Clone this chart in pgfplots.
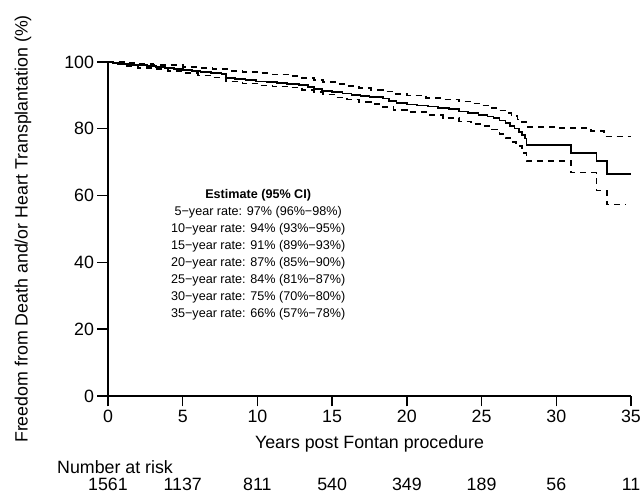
\documentclass[border=0pt]{standalone}
\usepackage{fontspec}
\setmainfont{Liberation Sans}
\usepackage{pgfplots}
\pgfplotsset{compat=1.18}

\begin{document}
\begin{tikzpicture}
\begin{axis}[
  scale only axis, width=523pt, height=334pt,
  xmin=0, xmax=35, ymin=0, ymax=100,
  axis lines=left, axis line style={-, line width=1.4pt},
  xtick={0,5,...,35}, ytick={0,20,...,100},
  tick align=outside, major tick length=10.5pt,
  tick style={black, line width=1.4pt},
  clip=false,
  font=\fontsize{17.8}{21}\selectfont,
  /pgf/number format/assume math mode=true,
  xlabel={Years post Fontan procedure},
  ylabel={Freedom from Death and/or Heart Transplantation (\%)},
  every axis x label/.style={at={(axis description cs:0.5,0)}, yshift=-53pt, anchor=base},
  every axis y label/.style={at={(axis description cs:0,0.5)}, xshift=-85pt, rotate=90, anchor=center},
]
% Kaplan-Meier estimate
\addplot[const plot, black, line width=1.7pt] coordinates {
(0,100)(0.3,99.8)(0.7,99.6)(1.0,99.4)(1.5,99.2)(2.0,99.0)(2.6,98.8)(3.2,98.6)
(3.8,98.3)(4.4,98.0)(5.0,97.5)(5.6,97.3)(6.2,97.0)(6.9,96.7)(7.6,96.4)(7.9,95.2)
(8.5,94.9)(9.2,94.6)(9.9,94.2)(10.6,94.0)(11.3,93.7)(12.0,93.5)(12.8,93.2)(13.4,92.6)
(13.8,92.0)(14.3,91.4)(15.0,91.0)(15.7,90.6)(16.3,90.2)(16.9,89.9)(17.5,89.6)(18.4,89.1)
(18.8,88.4)(19.3,87.8)(20.0,87.3)(20.7,87.0)(21.4,86.7)(22.1,86.3)(22.8,85.9)(23.5,85.2)
(24.1,84.7)(24.8,84.2)(25.4,83.7)(25.8,83.2)(26.2,82.5)(26.6,81.7)(26.9,80.9)(27.2,80.1)
(27.5,79.1)(27.7,78.1)(27.9,77.1)(28.0,75.2)(31.0,72.8)(32.7,70.4)(33.4,66.4)(35,66.4)};
% upper 95% CI
\addplot[const plot, black, line width=1.7pt, dash pattern=on 6pt off 5pt] coordinates {
(0,100)(0.5,99.9)(1.2,99.7)(2.0,99.5)(3.0,99.2)(4.0,99.0)(5.0,98.6)(6.0,98.3)
(7.0,97.9)(8.0,97.4)(9.0,97.0)(10.0,96.6)(11.0,96.3)(12.1,95.8)(13.0,95.2)(13.8,94.6)
(14.4,94.0)(15.2,93.5)(16.0,92.9)(16.8,92.2)(17.6,91.7)(18.4,91.2)(19.1,90.4)(20.0,90.0)
(21.3,89.3)(22.4,88.8)(23.5,88.2)(24.3,87.6)(25.0,87.0)(25.7,86.2)(26.2,85.5)(26.6,84.8)
(27.0,83.8)(27.4,82.8)(27.7,82.0)(28.0,80.6)(30.0,80.3)(32.3,79.3)(33.2,77.7)(35,77.7)};
% lower 95% CI
\addplot[const plot, black, line width=1.7pt, dash pattern=on 6pt off 5pt] coordinates {
(0,100)(0.5,99.3)(1.2,98.8)(2.0,98.3)(3.0,97.8)(4.0,97.3)(5.0,96.7)(6.0,96.0)
(7.0,95.4)(7.9,94.2)(9.0,93.6)(10.0,93.0)(11.0,92.7)(12.1,92.4)(13.0,91.7)(13.8,91.0)
(14.4,90.3)(15.2,89.4)(16.0,88.8)(16.8,88.1)(17.6,87.5)(18.4,86.6)(19.1,85.6)(20.0,85.0)
(21.3,84.2)(22.4,83.2)(23.5,82.2)(24.3,81.4)(25.0,80.8)(25.7,79.8)(26.2,78.5)(26.6,77.3)
(27.0,76.0)(27.3,74.8)(27.7,72.8)(28.0,70.3)(31.0,66.9)(32.7,61.5)(33.4,57.3)(34.65,57.3)};

\node[align=center, font=\fontsize{12.6}{17.1}\selectfont] at (axis cs:10.05,42.3)
  {\textbf{Estimate (95\% CI)}\\
   5−year rate: 97\% (96\%−98\%)\\
   10−year rate: 94\% (93\%−95\%)\\
   15−year rate: 91\% (89\%−93\%)\\
   20−year rate: 87\% (85\%−90\%)\\
   25−year rate: 84\% (81\%−87\%)\\
   30−year rate: 75\% (70\%−80\%)\\
   35−year rate: 66\% (57\%−78\%)};

\node[anchor=base west, inner sep=0pt, xshift=-51pt, yshift=-78pt] at (axis cs:0,0) {Number at risk};
\node[anchor=base, inner sep=0pt, yshift=-95pt] at (axis cs:0,0) {1561};
\node[anchor=base, inner sep=0pt, yshift=-95pt] at (axis cs:5,0) {1137};
\node[anchor=base, inner sep=0pt, yshift=-95pt] at (axis cs:10,0) {811};
\node[anchor=base, inner sep=0pt, yshift=-95pt] at (axis cs:15,0) {540};
\node[anchor=base, inner sep=0pt, yshift=-95pt] at (axis cs:20,0) {349};
\node[anchor=base, inner sep=0pt, yshift=-95pt] at (axis cs:25,0) {189};
\node[anchor=base, inner sep=0pt, yshift=-95pt] at (axis cs:30,0) {56};
\node[anchor=base, inner sep=0pt, yshift=-95pt] at (axis cs:35,0) {11};
\end{axis}
\pgfresetboundingbox
\useasboundingbox (-108pt,-98pt) rectangle (535pt,396pt);
\end{tikzpicture}
\end{document}
